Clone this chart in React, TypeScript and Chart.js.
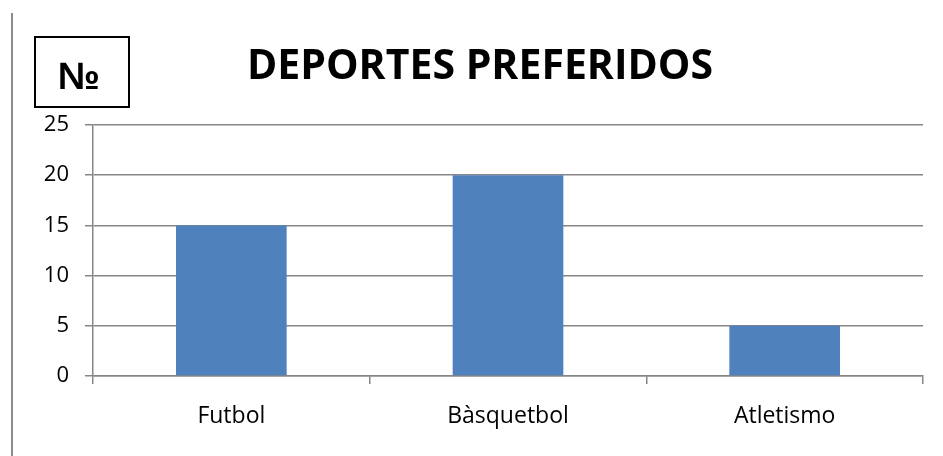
import React, { useEffect, useRef } from "react";
import { Chart, registerables } from "chart.js";

Chart.register(...registerables);

const categories = ["Futbol", "Bàsquetbol", "Atletismo"];
const values = [15, 20, 5];
const titleText = "DEPORTES PREFERIDOS";
const boxText = "№";

const extras = {
  id: "extras",
  beforeDraw(chart: any) {
    const ctx = chart.ctx;
    ctx.save();
    ctx.fillStyle = "#ffffff";
    ctx.fillRect(0, 0, chart.width, chart.height);
    // left vertical line
    ctx.strokeStyle = "#8c8c8c";
    ctx.lineWidth = 2;
    ctx.beginPath();
    ctx.moveTo(12, 13);
    ctx.lineTo(12, chart.height);
    ctx.stroke();
    // box
    ctx.strokeStyle = "#000000";
    ctx.lineWidth = 2;
    ctx.strokeRect(35, 37, 94, 70);
    ctx.fillStyle = "#000000";
    ctx.font = "bold 38px 'Liberation Sans'";
    ctx.textAlign = "center";
    ctx.textBaseline = "alphabetic";
    ctx.fillText(boxText, 79, 89);
    // title
    ctx.font = "bold 41px 'Open Sans'";
    ctx.fillText(titleText, 480, 79);
    ctx.restore();
  },
};

export default function App() {
  const ref = useRef<HTMLCanvasElement>(null);
  useEffect(() => {
    const chart = new Chart(ref.current!, {
      type: "bar",
      data: {
        labels: categories,
        datasets: [
          {
            data: values,
            backgroundColor: "#4F81BD",
            barPercentage: 0.4,
            categoryPercentage: 1,
          },
        ],
      },
      options: {
        animation: false,
        responsive: false,
        maintainAspectRatio: false,
        layout: { padding: { left: 0, top: 125, right: 20, bottom: 0 } },
        plugins: { legend: { display: false }, title: { display: false }, tooltip: { enabled: false } },
        scales: {
          x: {
            afterFit(scale: any) {
              scale.height = 80;
            },
            grid: {
              offset: true,
              drawOnChartArea: false,
              drawTicks: true,
              tickLength: 8,
              color: "#868686",
              lineWidth: 1.5,
            },
            border: { color: "#868686", width: 1.5 },
            ticks: {
              color: "#000",
              font: { family: "'Open Sans'", size: 23 },
              padding: 19,
            },
          },
          y: {
            min: 0,
            max: 25,
            afterFit(scale: any) {
              scale.width = 93;
            },
            grid: { color: "#868686", tickLength: 8, lineWidth: 1.5 },
            border: { color: "#868686", width: 1.5 },
            ticks: {
              stepSize: 5,
              color: "#000",
              font: { family: "'Open Sans'", size: 22 },
              padding: 16,
            },
          },
        },
      },
      plugins: [extras],
    });
    return () => chart.destroy();
  }, []);
  return (
    <div style={{ position: "absolute", left: 0, top: 0, width: 943, height: 456 }}>
      <canvas ref={ref} width={943} height={456} style={{ display: "block" }} />
    </div>
  );
}
